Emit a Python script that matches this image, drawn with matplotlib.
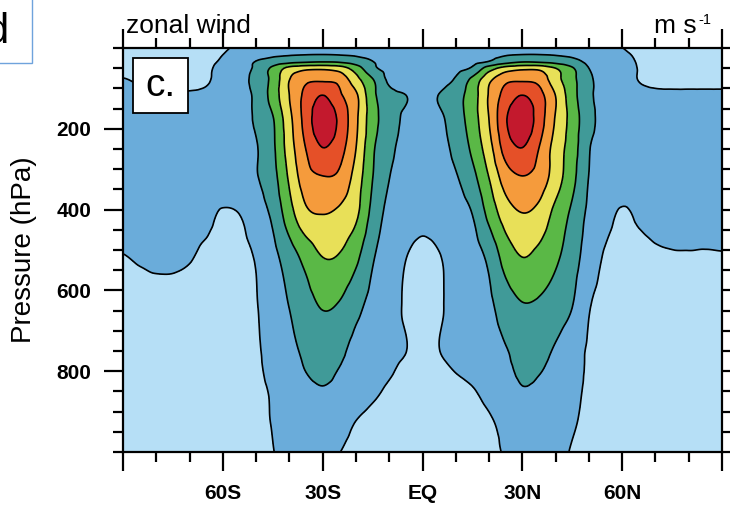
import numpy as np
import matplotlib.pyplot as plt
import matplotlib.tri as mtri
from matplotlib.patches import Rectangle
from matplotlib.ticker import MultipleLocator

plt.rcParams['font.family'] = ['Liberation Sans', 'DejaVu Sans']

# zonal-mean zonal wind (m/s): rows = pressure, cols = latitude
lat = np.arange(-90, 91, 5)
pres = [0, 15, 35, 50, 80, 120, 180, 250, 320, 410, 520, 640, 750, 800, 850, 930, 1000]
u = np.array([
    # -90 ... -70 | -65 ... -45 | -40 ... -20 | -15 ... 5 | 10 ... 30 | 35 ... 55 | 60 ... 80 | 85, 90
    [-2, -2, -2, -2, -1.8, -1.2, -0.4, 0.6, 1.5, 2.5, 3.2, 3.7, 3.9, 3.7, 3.3, 2.8, 2.3, 2.0, 2.0, 2.2,
     2.6, 3.1, 3.6, 3.9, 4.0, 3.9, 3.5, 2.8, 2.0, 1.0, 0.05, -1.0, -1.8, -2, -2, -2, -2],
    [-2, -2, -2, -2, -1.6, -1.0, -0.05, 1.2, 2.8, 3.8, 4.4, 4.7, 4.8, 4.6, 4.2, 3.6, 2.8, 2.2, 2.0, 2.3,
     2.8, 3.4, 4.0, 4.5, 4.8, 4.8, 4.5, 3.8, 2.8, 1.5, 0.5, -0.5, -1.5, -2, -2, -2, -2],
    [-1.8, -1.8, -1.8, -1.7, -1.3, -0.6, 0.5, 2.8, 5.3, 7.5, 9.0, 9.8, 10.2, 9.8, 8.0, 5.2, 3.5, 2.6, 2.4, 2.6,
     3.2, 4.0, 5.5, 8.5, 10.1, 9.8, 8.8, 7.0, 4.0, 2.2, 0.9, -0.2, -1.1, -1.6, -1.6, -1.6, -1.6],
    [-1.5, -1.5, -1.5, -1.5, -1.2, -0.5, 1.0, 3.2, 5.8, 11.0, 16.5, 18.5, 18.8, 17.5, 12.5, 6.0, 3.8, 2.8, 2.5, 2.8,
     3.8, 5.6, 12.5, 17.0, 18.6, 18.5, 15.0, 10.5, 5.0, 2.5, 1.0, -0.1, -1.0, -1.5, -1.5, -1.5, -1.5],
    [0.3, -0.4, -0.8, -1.0, -1.0, -0.4, 1.5, 3.5, 6.5, 11.5, 20.0, 24.0, 24.5, 23.5, 17.0, 10.5, 4.2, 3.0, 2.6, 3.3,
     5.6, 11.5, 19.0, 23.8, 24.5, 23.5, 17.0, 11.5, 6.0, 3.0, 1.2, -0.05, -0.6, -0.8, -0.8, -0.8, -0.8],
    [1.2, 0.8, 0.6, 0.5, 0.5, 0.8, 2.0, 3.0, 6.0, 12.0, 20.0, 26.5, 30.3, 26.0, 21.0, 11.5, 6.5, 5.1, 3.5, 5.2,
     8.2, 12.5, 20.5, 27.0, 30.3, 27.0, 20.0, 12.0, 6.0, 3.3, 1.8, 0.8, 0.6, 0.6, 0.6, 0.6, 0.6],
    [1.8, 1.5, 1.3, 1.2, 1.3, 1.8, 2.8, 4.0, 5.5, 9.5, 18.5, 27.0, 34.0, 29.0, 21.0, 12.0, 7.5, 4.0, 3.0, 4.0,
     7.5, 12.5, 20.0, 29.5, 34.0, 27.5, 19.5, 13.0, 6.5, 3.5, 2.2, 1.5, 1.3, 1.3, 1.3, 1.3, 1.3],
    [2.2, 2.0, 1.8, 1.8, 2.0, 2.5, 3.3, 4.0, 4.7, 9.0, 17.5, 25.1, 29.8, 27.0, 20.0, 10.8, 6.2, 3.5, 2.8, 3.5,
     6.2, 11.0, 18.0, 27.0, 29.8, 24.9, 17.8, 12.5, 5.3, 3.3, 2.5, 2.0, 1.8, 1.8, 1.8, 1.8, 1.8],
    [2.5, 2.3, 2.2, 2.2, 2.4, 2.8, 3.5, 4.2, 4.7, 8.2, 15.8, 23.0, 24.8, 24.0, 18.0, 10.1, 5.1, 3.2, 2.6, 3.2,
     4.6, 8.5, 15.1, 22.5, 24.8, 23.0, 17.5, 11.5, 4.9, 3.3, 2.6, 2.3, 2.2, 2.2, 2.2, 2.2, 2.2],
    [2.5, 2.2, 2.0, 1.8, 1.5, 1.2, -0.5, 0.05, 2.8, 6.0, 13.0, 19.0, 20.1, 19.0, 16.0, 8.5, 3.5, 2.0, 1.2, 1.8,
     3.0, 5.1, 11.5, 17.5, 19.9, 18.5, 13.5, 9.0, 4.0, 1.5, -0.5, 0.6, 1.2, 1.5, 1.8, 2.0, 2.0],
    [-0.2, 0.3, 0.6, 0.6, 0.2, -0.8, -1.5, -1.0, 0.3, 3.5, 7.5, 11.5, 14.9, 14.5, 11.0, 5.5, 2.0, 0.05, -1.0, -0.2,
     1.5, 3.0, 6.0, 12.0, 14.9, 13.5, 10.8, 7.2, 2.5, -0.5, -1.5, -1.0, -0.5, -0.3, -0.3, -0.4, -0.3],
    [-1.5, -1.2, -1.2, -1.3, -1.6, -2.0, -1.8, -1.0, -0.2, 2.3, 5.1, 8.0, 10.3, 9.5, 6.3, 3.5, 1.5, -0.4, -1.2, -0.4,
     1.2, 2.5, 4.0, 7.5, 9.6, 9.2, 7.5, 5.05, 0.3, -1.2, -1.8, -1.6, -1.4, -1.2, -1.2, -1.2, -1.2],
    [-2.0, -1.8, -1.8, -2.0, -2.3, -2.5, -2.2, -1.4, -0.5, 1.5, 3.8, 5.8, 7.0, 6.0, 3.5, 2.3, 1.0, 0.05, -1.2, -0.05,
     1.0, 2.0, 3.0, 4.7, 6.5, 6.2, 4.5, 2.0, -0.5, -1.8, -2.3, -2.2, -2.0, -2.0, -2.0, -2.0, -2.0],
    [-2.2, -2.0, -2.0, -2.2, -2.5, -2.8, -2.4, -1.5, -0.6, 1.0, 3.2, 5.05, 5.8, 4.8, 3.0, 1.6, 0.4, -0.8, -1.5, -0.8,
     0.1, 1.0, 2.2, 4.0, 5.7, 5.2, 3.8, 1.7, -0.6, -2.0, -2.6, -2.5, -2.2, -2.2, -2.2, -2.2, -2.2],
    [-2.5, -2.3, -2.3, -2.5, -2.8, -3.0, -2.6, -1.6, -0.7, 0.4, 2.5, 4.0, 4.7, 4.0, 2.5, 0.8, -0.6, -1.5, -2.0, -1.8,
     -1.2, -0.3, 1.2, 3.2, 4.7, 4.2, 3.0, 1.2, -0.8, -2.2, -2.8, -2.8, -2.5, -2.5, -2.5, -2.5, -2.5],
    [-3.0, -2.8, -2.8, -3.0, -3.2, -3.4, -3.0, -2.0, -0.9, 0.15, 1.5, 2.5, 2.8, 1.8, -0.2, -1.5, -2.5, -3.0, -3.2, -3.0,
     -2.5, -1.6, -0.6, 1.2, 2.6, 2.5, 1.8, 0.4, -1.0, -2.5, -3.0, -3.0, -3.0, -3.0, -3.0, -3.0, -3.0],
    [-3.5, -3.3, -3.3, -3.5, -3.6, -3.8, -3.5, -2.5, -1.2, -0.1, 1.0, 1.8, 1.5, 0.1, -1.5, -2.5, -3.2, -3.5, -3.6, -3.5,
     -3.2, -2.5, -1.5, 0.5, 1.4, 1.8, 1.2, -0.3, -1.5, -2.8, -3.5, -3.5, -3.5, -3.5, -3.5, -3.5, -3.5],
])

levels = [-100, 0, 5, 10, 15, 20, 25, 30, 100]
line_levels = [0, 5, 10, 15, 20, 25, 30]
fill_colors = ['#b6dff6', '#6aacda', '#409a98', '#5ab846', '#e8e058', '#f59b3c', '#e55028', '#c3192d']

# smooth the table with matplotlib's cubic tri interpolator (screen-shaped units),
# using both diagonal splits of the grid cells so neither direction is favoured
sx, sy = 3.33, 0.404
LAT, P = np.meshgrid(lat, pres)
idx = np.arange(LAT.size).reshape(LAT.shape)
a, b = idx[:-1, :-1].ravel(), idx[:-1, 1:].ravel()
c, d = idx[1:, 1:].ravel(), idx[1:, :-1].ravel()
splits = [np.vstack([np.c_[a, b, c], np.c_[a, c, d]]),
          np.vstack([np.c_[a, b, d], np.c_[b, c, d]])]

lat_f = np.linspace(-89.99, 89.99, 361)
p_f = np.linspace(0.01, 999.99, 501)
LF, PF = np.meshgrid(lat_f, p_f)
u_f = np.zeros_like(LF)
for t in splits:
    tri = mtri.Triangulation(LAT.ravel() * sx, P.ravel() * sy, t)
    u_f += mtri.CubicTriInterpolator(tri, u.ravel(), kind='geom')(LF * sx, PF * sy).filled(0)
u_f /= len(splits)

fig = plt.figure(figsize=(7.3, 5.05), dpi=100)
ax = fig.add_axes([123 / 730, 53 / 505, 599 / 730, 404 / 505])

ax.contourf(LF, PF, u_f, levels=levels, colors=fill_colors)
ax.contour(LF, PF, u_f, levels=line_levels, colors='k', linewidths=1.2)

ax.set_xlim(-90, 90)
ax.set_ylim(1000, 0)
ax.set_xticks([-90, -60, -30, 0, 30, 60, 90])
ax.set_xticklabels(['', '60S', '30S', 'EQ', '30N', '60N', ''])
ax.xaxis.set_minor_locator(MultipleLocator(10))
ax.set_yticks([200, 400, 600, 800])
ax.yaxis.set_minor_locator(MultipleLocator(50))
ax.tick_params(which='both', direction='out', top=True, right=True, width=1.6)
ax.tick_params(which='major', length=14, labelsize=15, pad=9)
ax.tick_params(which='minor', length=7)
for lab in ax.get_xticklabels() + ax.get_yticklabels():
    lab.set_fontweight('bold')
for s in ax.spines.values():
    s.set_linewidth(1.6)

ax.set_ylabel('Pressure (hPa)', fontsize=20)
ax.yaxis.set_label_coords(-0.143, 0.5)

ax.annotate('zonal wind', xy=(0, 1), xycoords='axes fraction', xytext=(3, 15),
            textcoords='offset pixels', ha='left', va='baseline', fontsize=19, zorder=1)
ax.annotate('m s', xy=(1, 1), xycoords='axes fraction', xytext=(-25, 15),
            textcoords='offset pixels', ha='right', va='baseline', fontsize=19, zorder=1)
ax.annotate('-1', xy=(1, 1), xycoords='axes fraction', xytext=(-24, 24),
            textcoords='offset pixels', ha='left', va='baseline', fontsize=10.5, zorder=1)

# panel letter box
ax.add_patch(Rectangle((0.0167, 0.84), 0.0918, 0.135, transform=ax.transAxes,
                       fc='white', ec='k', lw=1.3, zorder=5))
ax.text(0.0626, 0.905, 'c.', transform=ax.transAxes, ha='center', va='center',
        fontsize=28, zorder=6)

# clipped letter of the neighbouring panel
fig.patches.append(Rectangle((-0.1, 1 - 63 / 505), 0.1 + 32 / 730, 0.5, transform=fig.transFigure,
                             fill=False, ec='#6fa3dc', lw=1))
fig.text(8 / 730, 1 - 43 / 505, 'd', ha='right', va='baseline', fontsize=30)

fig.savefig('out.png', dpi=100)
